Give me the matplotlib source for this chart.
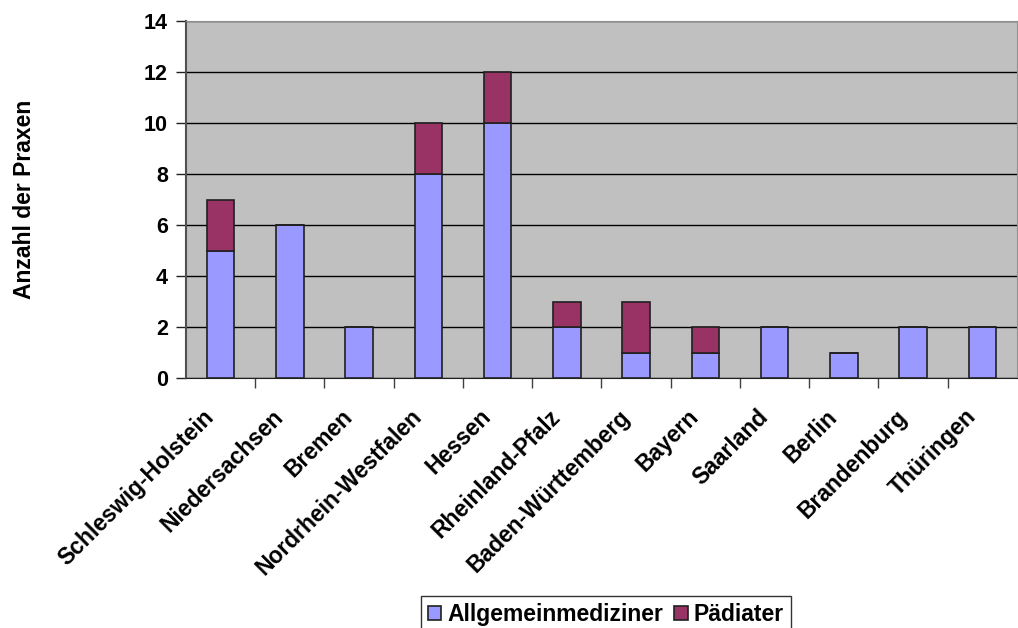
import numpy as np
import matplotlib.pyplot as plt
from matplotlib.transforms import ScaledTranslation

plt.rcParams['font.family'] = ['Liberation Sans', 'DejaVu Sans']
plt.rcParams['font.weight'] = 'bold'

# Praxen je Bundesland
laender = ['Schleswig-Holstein', 'Niedersachsen', 'Bremen', 'Nordrhein-Westfalen',
           'Hessen', 'Rheinland-Pfalz', 'Baden-Württemberg', 'Bayern', 'Saarland',
           'Berlin', 'Brandenburg', 'Thüringen']
allgemein = [5, 6, 2, 8, 10, 2, 1, 1, 2, 1, 2, 2]
paediater = [2, 0, 0, 2, 2, 1, 2, 1, 0, 0, 0, 0]

fig = plt.figure(figsize=(10.18, 6.28), dpi=100)
ax = fig.add_axes([0.1827, 0.398, 0.8163, 0.5686])
ax.set_facecolor('#C0C0C0')

x = np.arange(len(laender))
ax.bar(x, allgemein, width=0.4, color='#9999FF', edgecolor='#202020',
       linewidth=1.2, label='Allgemeinmediziner', zorder=3)
ax.bar(x, paediater, width=0.4, bottom=allgemein, color='#993366',
       edgecolor='#202020', linewidth=1.2, label='Pädiater', zorder=3)

ax.set_xlim(-0.5, len(laender) - 0.5)
ax.set_ylim(0, 14)
ax.set_yticks(np.arange(0, 15, 2))
ax.yaxis.grid(True, color='black', linewidth=1, zorder=1)
ax.set_axisbelow(True)

# Kategorie-Ticks zwischen den Balken
ax.set_xticks(x)
ax.set_xticks(np.arange(0.5, len(laender) - 0.5, 1), minor=True)
ax.tick_params(axis='x', which='major', length=0, pad=0)
ax.tick_params(axis='x', which='minor', length=7, width=1, color='#404040')
ax.tick_params(axis='y', length=7, width=1, color='#202020', labelsize=15.5, pad=6)
ax.set_xticklabels(laender, rotation=45, ha='right', va='top',
                   rotation_mode='anchor', fontsize=16.5, fontweight='bold')
shift = ScaledTranslation(-18 / 100, -27 / 100, fig.dpi_scale_trans)
for lbl in ax.get_xticklabels():
    lbl.set_transform(lbl.get_transform() + shift)
for lbl in ax.get_yticklabels():
    lbl.set_fontweight('bold')

for side in ['top', 'right']:
    ax.spines[side].set_color('#909090')
ax.spines['left'].set_color('#505050')
ax.spines['bottom'].set_color('#202020')
ax.spines['left'].set_linewidth(1.5)

fig.text(0.0245, 1 - 199 / 628, 'Anzahl der Praxen', rotation=90, ha='center',
         va='center', fontsize=16.5, fontweight='bold')

leg = fig.legend(loc='upper center', bbox_to_anchor=(0.595, 1 - 596 / 628), ncol=2,
                 frameon=True, fancybox=False, edgecolor='black',
                 fontsize=16.5, handlelength=0.6, handleheight=0.6,
                 handletextpad=0.25, columnspacing=0.5, borderpad=0.3,
                 borderaxespad=0)
leg.get_frame().set_linewidth(1)
for t in leg.get_texts():
    t.set_fontweight('bold')

fig.savefig('out.png', dpi=100)
